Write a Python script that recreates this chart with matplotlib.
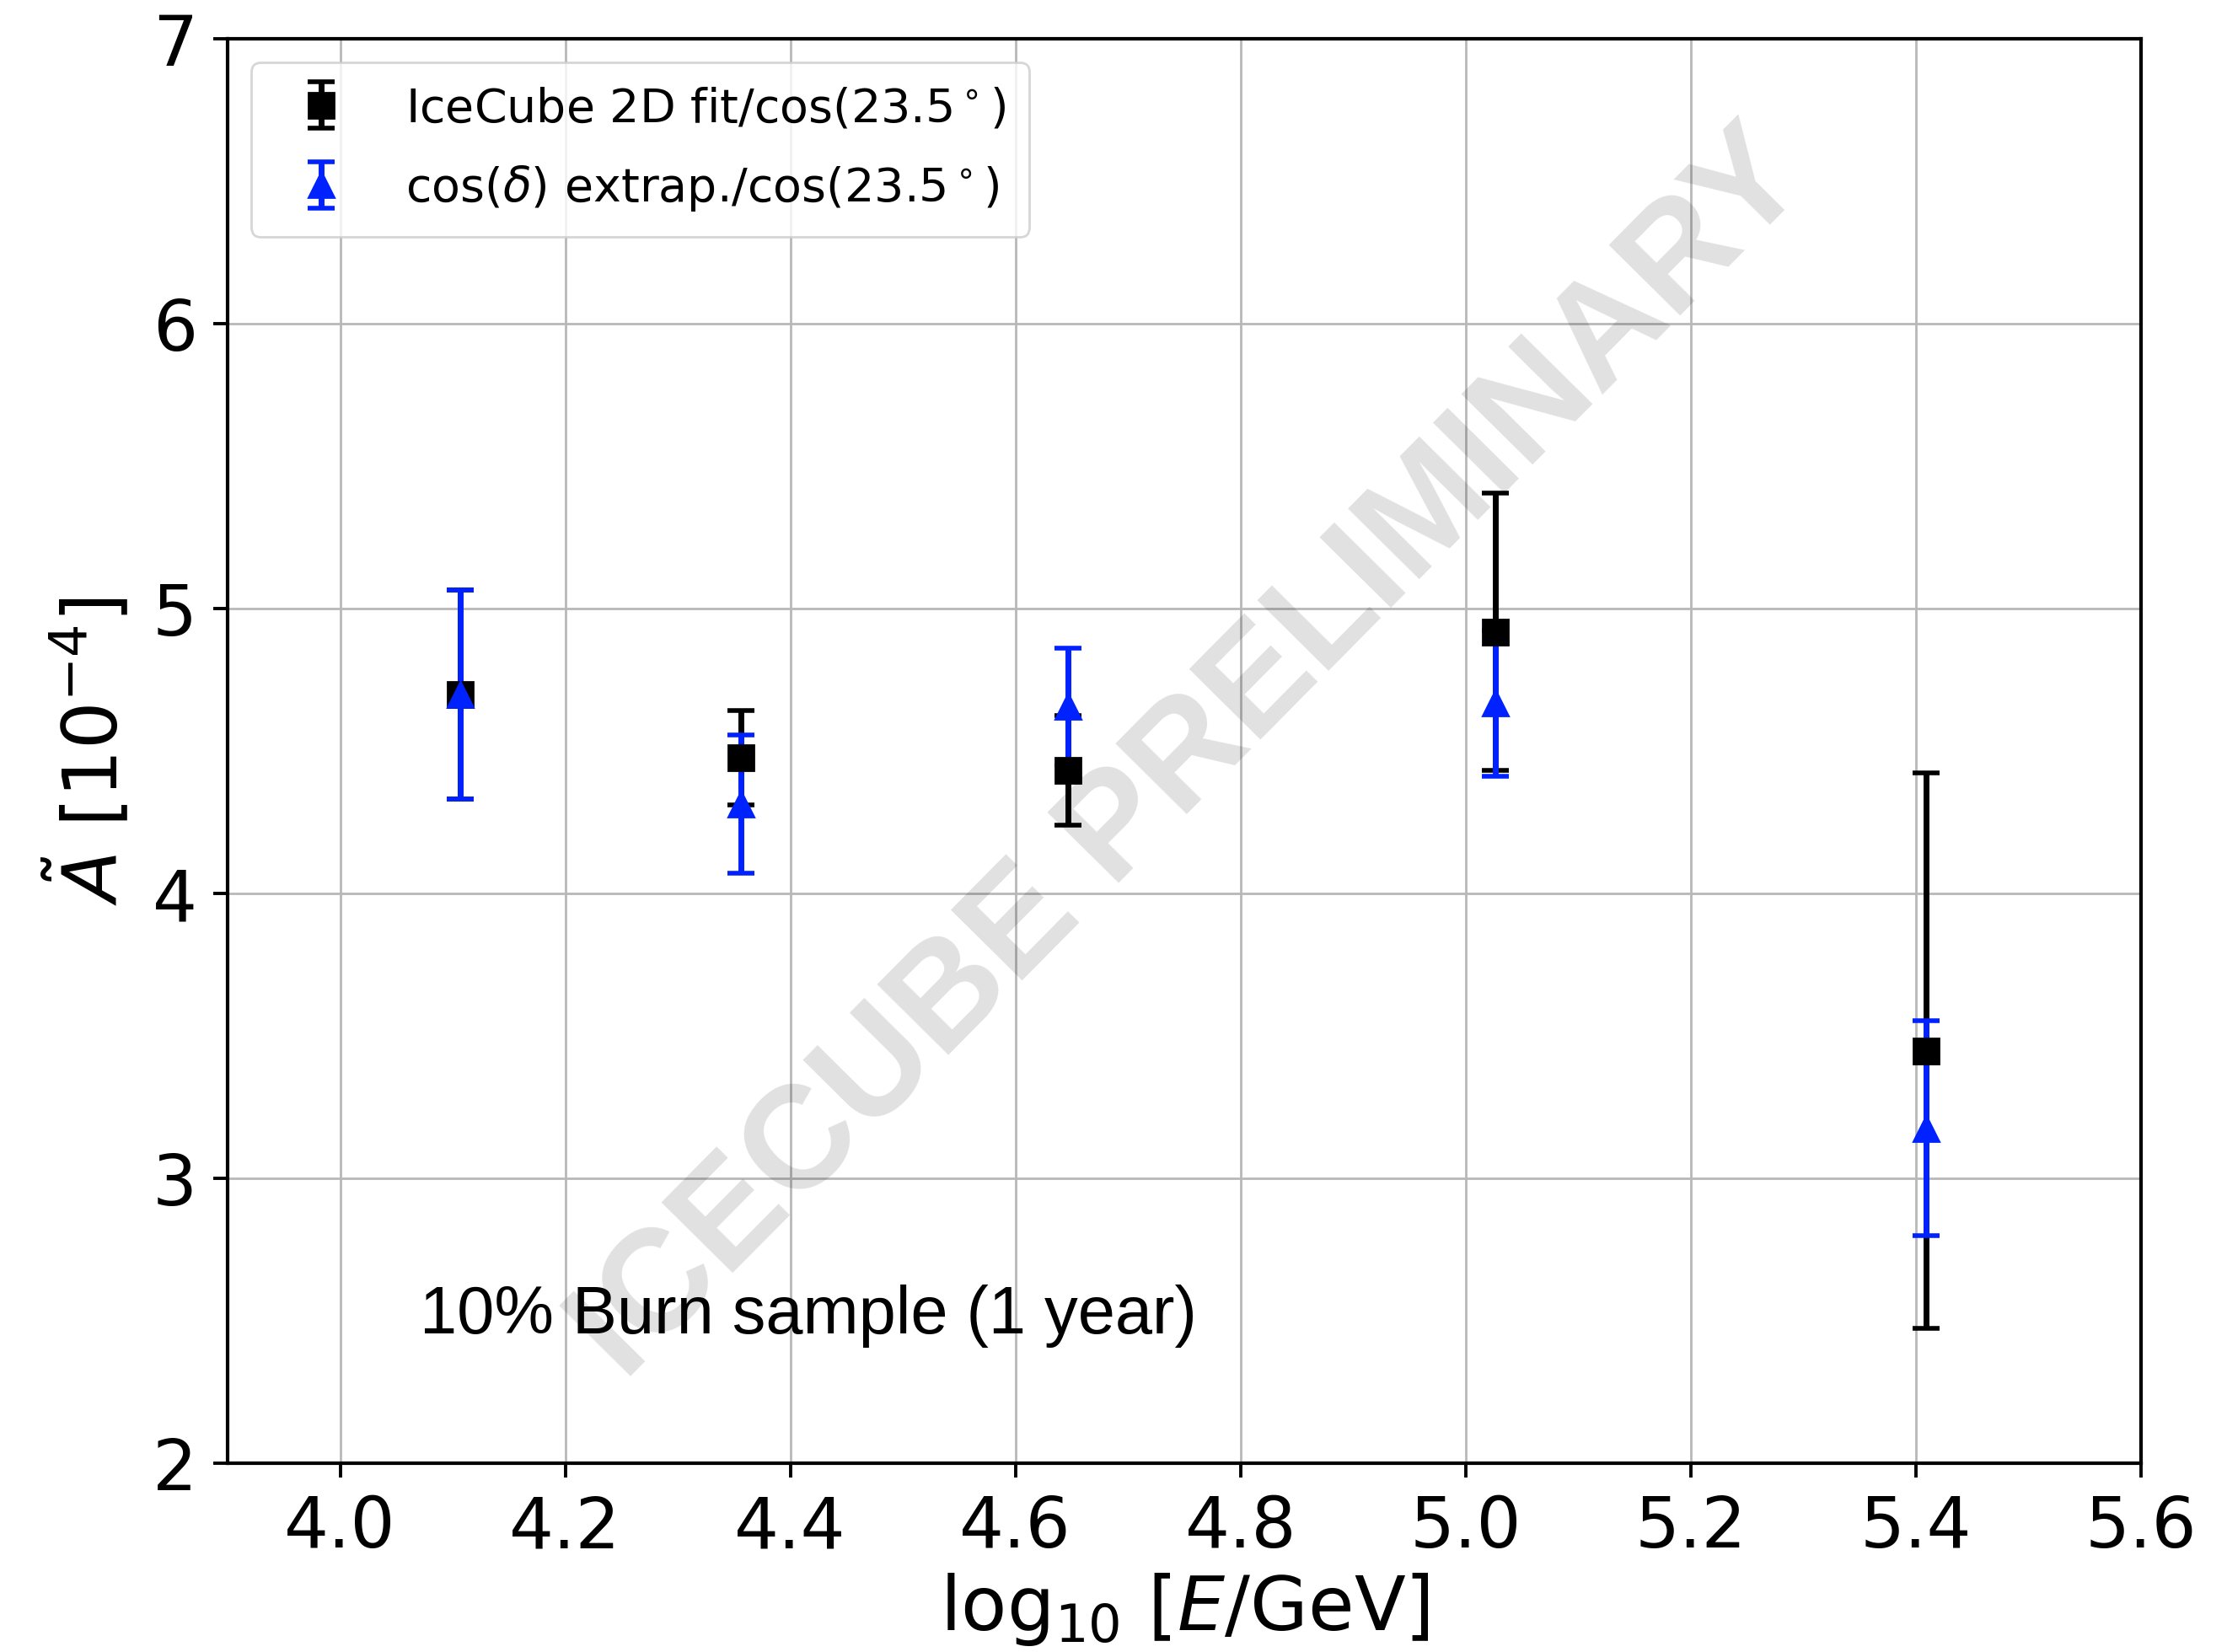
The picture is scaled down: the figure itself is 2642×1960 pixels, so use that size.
import matplotlib
matplotlib.use("Agg")
import matplotlib.pyplot as plt

# Energy bins (log10 E/GeV)
log_energy = [4.107, 4.356, 4.647, 5.026, 5.409]

# IceCube 2D fit / cos(23.5 deg), amplitude in units of 1e-4
fit_amp = [4.70, 4.477, 4.433, 4.919, 3.448]
fit_err = [0.367, 0.167, 0.193, 0.487, 0.975]

# cos(delta) extrapolation / cos(23.5 deg)
extrap_amp = [4.70, 4.315, 4.657, 4.668, 3.176]
extrap_err = [0.367, 0.243, 0.206, 0.257, 0.377]

x_ticks = [4.0, 4.2, 4.4, 4.6, 4.8, 5.0, 5.2, 5.4, 5.6]
y_ticks = [2, 3, 4, 5, 6, 7]

fig = plt.figure(figsize=(13.21, 9.8), dpi=200)
ax = fig.add_axes([0.1022, 0.1143, 0.8592, 0.8620])

common = dict(ls="none", ms=10.5, elinewidth=2.5, capsize=5.8, capthick=2.0)
ax.errorbar(log_energy, fit_amp, yerr=fit_err, fmt="s", color="black",
            label=r"IceCube 2D fit/cos(23.5$^\circ$)", **common)
ax.errorbar(log_energy, extrap_amp, yerr=extrap_err, fmt="^", color="#0022ff",
            label=r"cos($\delta$) extrap./cos(23.5$^\circ$)", **common)

ax.set_xlim(3.9, 5.6)
ax.set_ylim(2, 7)
ax.set_xticks(x_ticks)
ax.set_yticks(y_ticks)
ax.grid(True, color="#b8b8b8", linewidth=1.0)
ax.set_axisbelow(True)

for sp in ax.spines.values():
    sp.set_linewidth(1.5)
ax.tick_params(axis="both", labelsize=30, length=6, width=1.4, pad=7)

ax.set_xlabel(r"$\log_{10}\,[E/\mathrm{GeV}]$", fontsize=32, labelpad=4)
ax.set_ylabel(r"$\tilde{A}$ [$10^{-4}$]", fontsize=32, labelpad=8)

ax.legend(loc="upper left", fontsize=20, labelspacing=0.68, borderpad=0.5)

ax.text(4.071, 2.457, "10% Burn sample (1 year)", family="Liberation Sans",
        fontsize=28.6, ha="left", va="baseline", zorder=5)

# Preliminary watermark laid over the plot
fig.text(0.535, 0.542, "ICECUBE PRELIMINARY", family="Liberation Sans",
         fontweight="bold", fontsize=62, rotation=45.3, color="black",
         alpha=0.12, ha="center", va="center", zorder=10)

fig.savefig("out.png", dpi=200)
